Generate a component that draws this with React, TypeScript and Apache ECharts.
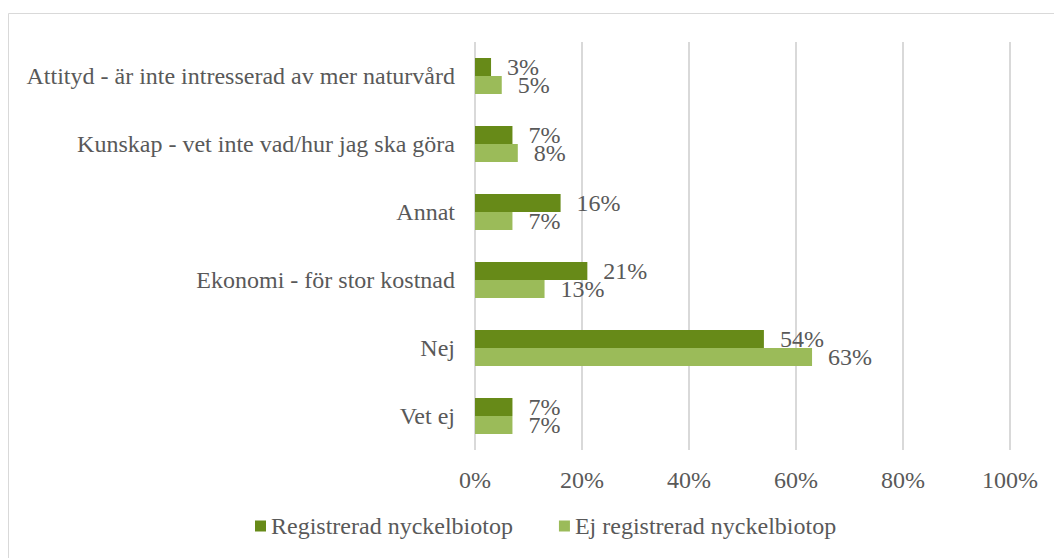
import React, { useEffect, useRef } from "react";
import * as echarts from "echarts";

const categories = [
  "Attityd - är inte intresserad av mer naturvård",
  "Kunskap - vet inte vad/hur jag ska göra",
  "Annat",
  "Ekonomi - för stor kostnad",
  "Nej",
  "Vet ej",
];
const registrerad = [3, 7, 16, 21, 54, 7];
const ejRegistrerad = [5, 8, 7, 13, 63, 7];
const seriesNames = ["Registrerad nyckelbiotop", "Ej registrerad nyckelbiotop"];

const FONT = "'Liberation Serif', 'Times New Roman', serif";
const FS = 24;
const TEXT = "#595959";

export default function App() {
  const ref = useRef<HTMLDivElement>(null);
  useEffect(() => {
    if (!ref.current) return;
    const chart = echarts.init(ref.current, undefined, { renderer: "svg" });
    const label = {
      show: true,
      position: "right",
      distance: 16,
      formatter: "{c}%",
      fontFamily: FONT,
      fontSize: FS,
      color: TEXT,
    };
    chart.setOption({
      animation: false,
      textStyle: { fontFamily: FONT },
      grid: { left: 475, right: 44, top: 42, bottom: 108, containLabel: false },
      legend: {
        bottom: 15,
        left: 250,
        itemWidth: 11,
        itemHeight: 11,
        itemGap: 46,
        icon: "rect",
        textStyle: { fontFamily: FONT, fontSize: FS, color: TEXT },
        data: seriesNames,
      },
      graphic: [
        {
          type: "rect",
          shape: { x: 8.5, y: 13.5, width: 1100, height: 600 },
          style: { fill: "none", stroke: "#d9d9d9", lineWidth: 1 },
          silent: true,
        },
      ],
      xAxis: {
        type: "value",
        min: 0,
        max: 100,
        interval: 20,
        axisLabel: {
          formatter: "{value}%",
          fontFamily: FONT,
          fontSize: FS,
          color: TEXT,
          margin: 18,
        },
        axisLine: { show: false },
        axisTick: { show: false },
        splitLine: { lineStyle: { color: "#d9d9d9", width: 2 } },
      },
      yAxis: {
        type: "category",
        data: categories,
        inverse: true,
        axisLabel: { fontFamily: FONT, fontSize: FS, color: TEXT, margin: 20 },
        axisLine: { show: false },
        axisTick: { show: false },
      },
      series: [
        {
          name: seriesNames[0],
          type: "bar",
          data: registrerad,
          barGap: "0%",
          barCategoryGap: "47%",
          itemStyle: { color: "#678a18" },
          label,
        },
        {
          name: seriesNames[1],
          type: "bar",
          data: ejRegistrerad,
          barGap: "0%",
          barCategoryGap: "47%",
          itemStyle: { color: "#9bbb59" },
          label,
        },
      ],
    });
    return () => chart.dispose();
  }, []);
  return (
    <div
      ref={ref}
      style={{ position: "absolute", left: 0, top: 0, width: 1054, height: 558 }}
    />
  );
}
